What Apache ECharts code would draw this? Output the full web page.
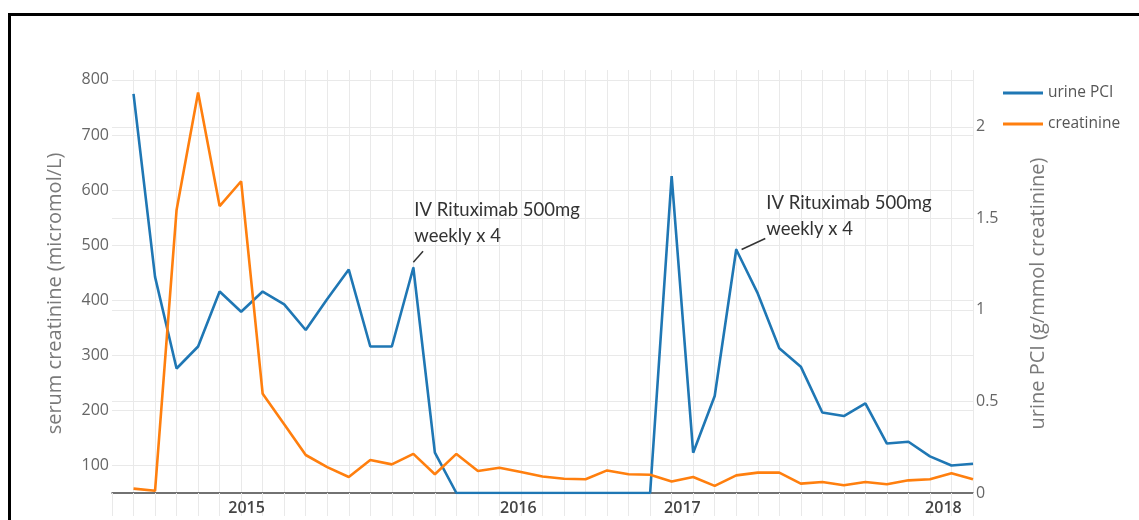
<!DOCTYPE html>
<html>
<head>
<meta charset="utf-8">
<script src="https://cdn.jsdelivr.net/npm/echarts@6/dist/echarts.min.js"></script>
<style>
  html, body { margin: 0; padding: 0; background: #fff; }
  #chart { width: 1139px; height: 520px; }
  /* black frame of the original figure, cut at right and bottom */
  .frame {
    position: absolute; left: 8px; top: 13px;
    width: 1200px; height: 600px;
    border: 3px solid #000; pointer-events: none;
  }
</style>
</head>
<body>
<div id="chart"></div>
<div class="frame"></div>
<script>
// urine PCI (g/mmol creatinine), one value per visit, right axis
const urinePCI = [
  2.18, 1.18, 0.68, 0.80, 1.10, 0.99, 1.10, 1.03, 0.89, 1.06,
  1.22, 0.80, 0.80, 1.23, 0.22, 0, 0, 0, 0, 0,
  0, 0, 0, 0, 0, 1.73, 0.22, 0.53, 1.33, 1.09,
  0.79, 0.69, 0.44, 0.42, 0.49, 0.27, 0.28, 0.20, 0.15, 0.16
]
// serum creatinine (micromol/L), left axis
const creatinine = [
  58, 54, 564, 777, 571, 616, 230, 175, 119, 97,
  79, 110, 102, 121, 84, 121, 90, 96, 88, 80,
  76, 75, 91, 84, 83, 71, 79, 63, 82, 87,
  87, 67, 70, 64, 70, 66, 73, 75, 86, 75
]
// year labels and where they sit along the visit index
const yearLabels = ['2015', '2016', '2017', '2018']
const yearPos = [5.25, 17.875, 25.5, 37.625]
// annotated visits: text, pointer from/to (visit index, urine PCI)
const notes = [
  { index: 13, text: 'IV Rituximab 500mg\nweekly x 4', pos: [2, -70], from: [13.0, 1.26], to: [13.45, 1.32] },
  { index: 28, text: 'IV Rituximab 500mg\nweekly x 4', pos: [31, -58], from: [28.25, 1.33], to: [29.35, 1.39] }
]

const gridColor = '#e9e9e9'
const xSplitColors = [ 'transparent' ].concat(new Array(40).fill(gridColor))

const pciData = urinePCI.map((v, i) => [i, v])
notes.forEach((n) => {
  pciData[n.index] = {
    value: [n.index, urinePCI[n.index]],
    symbol: 'circle',
    symbolSize: 2,
    label: {
      show: true,
      formatter: n.text,
      position: n.pos,
      align: 'left',
      verticalAlign: 'top',
      fontFamily: 'Lato',
      fontSize: 18.5,
      lineHeight: 26,
      color: '#333'
    }
  }
})

const chart = echarts.init(document.getElementById('chart'))
const option = {
  animation: false,
  textStyle: { fontFamily: 'Open Sans' },
  grid: { left: 112, right: 166, top: 70, bottom: 27 },
  legend: {
    orient: 'vertical',
    left: 998,
    top: 80,
    itemWidth: 40,
    itemHeight: 14,
    itemGap: 15,
    icon: 'path://M0,0L40,0L40,3L0,3Z',
    textStyle: { fontSize: 15.5, color: '#555' },
    data: ['urine PCI', 'creatinine']
  },
  xAxis: [
    {
      type: 'value',
      min: -1,
      max: 39,
      interval: 1,
      axisLabel: { show: false },
      axisLine: { show: true, onZero: false, lineStyle: { color: '#444', width: 1.5 } },
      axisTick: { show: true, length: 23, lineStyle: { color: gridColor } },
      splitLine: { show: true, showMinLine: true, showMaxLine: true, lineStyle: { color: xSplitColors } }
    },
    {
      type: 'value',
      position: 'bottom',
      min: -1,
      max: 39,
      interval: 0.125,
      axisLine: { show: false },
      axisTick: { show: false },
      splitLine: { show: false },
      axisLabel: {
        margin: 7,
        fontSize: 16,
        fontWeight: 600,
        color: '#444',
        formatter: (v) => {
          const k = yearPos.findIndex((p) => Math.abs(p - v) < 1e-6)
          return k >= 0 ? yearLabels[k] : ''
        }
      }
    }
  ],
  yAxis: [
    {
      type: 'value',
      position: 'left',
      min: 50,
      max: 818,
      interval: 50,
      name: 'serum creatinine (micromol/L)',
      nameLocation: 'middle',
      nameRotate: 90,
      nameGap: 47,
      nameTextStyle: { fontSize: 20, color: '#7a7a7a', padding: [0, 24, 0, 0] },
      axisLine: { show: false },
      axisTick: { show: false },
      axisLabel: {
        margin: 3,
        fontSize: 16,
        color: '#666',
        formatter: (v) => (v % 100 === 0 && v <= 800 ? String(v) : '')
      },
      splitLine: {
        show: true, showMinLine: true, showMaxLine: true,
        lineStyle: { color: ['transparent', gridColor] }
      }
    },
    {
      type: 'value',
      position: 'right',
      min: 0,
      max: 2.31,
      interval: 0.5,
      name: 'urine PCI (g/mmol creatinine)',
      nameLocation: 'middle',
      nameRotate: 90,
      nameGap: 55,
      nameTextStyle: { fontSize: 20, color: '#7a7a7a', padding: [0, 24, 0, 0] },
      axisLine: { show: false },
      axisTick: { show: false },
      axisLabel: {
        margin: 3,
        fontSize: 16,
        color: '#666',
        formatter: (v) => (v > 2.001 ? '' : String(v))
      },
      splitLine: {
        show: true, showMinLine: true, showMaxLine: true,
        lineStyle: { color: ['transparent', gridColor, gridColor, gridColor, gridColor, 'transparent'] }
      }
    }
  ],
  series: [
    {
      name: 'urine PCI',
      type: 'line',
      xAxisIndex: 0,
      yAxisIndex: 1,
      symbol: 'none',
      data: pciData,
      itemStyle: { color: '#1f77b4' },
      lineStyle: { color: '#1f77b4', width: 2.6 },
      markLine: {
        silent: true,
        symbol: 'none',
        label: { show: false },
        lineStyle: { color: '#333', width: 1.5, type: 'solid' },
        data: notes.map((n) => [{ coord: n.from }, { coord: n.to }])
      }
    },
    {
      name: 'creatinine',
      type: 'line',
      xAxisIndex: 0,
      yAxisIndex: 0,
      symbol: 'none',
      data: creatinine.map((v, i) => [i, v]),
      itemStyle: { color: '#ff7f0e' },
      lineStyle: { color: '#ff7f0e', width: 2.6 }
    }
  ]
}
chart.setOption(option)
</script>
</body>
</html>
